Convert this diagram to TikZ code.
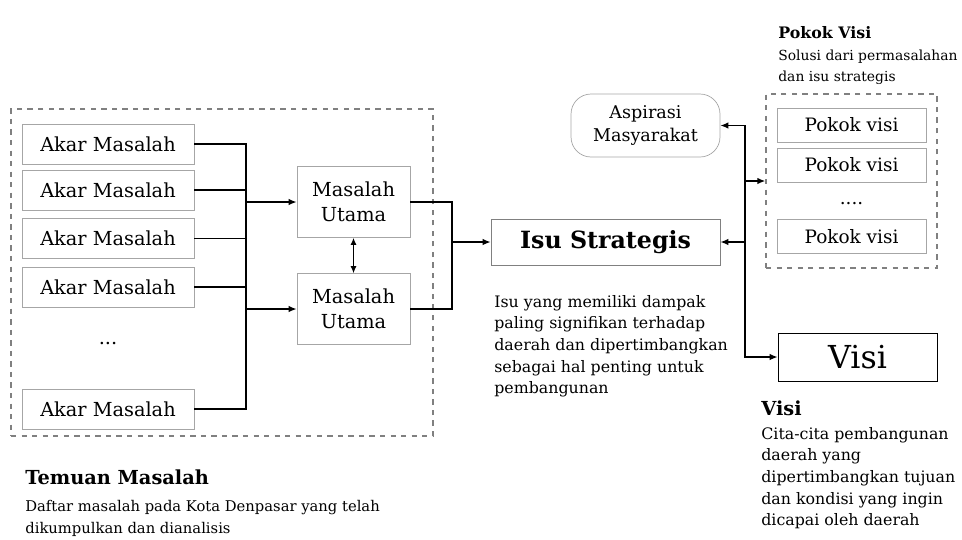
\documentclass[tikz,border=0pt]{standalone}
\usepackage{fontspec}
\setmainfont{DejaVu Serif}
\usetikzlibrary{arrows.meta}

\begin{document}
\begin{tikzpicture}[
  x=0.02cm, y=-0.02cm,
  box/.style={
    rectangle,
    draw=gray!70,
    inner sep=0pt,
    align=center,
    font=\fontsize{11}{14}\selectfont
  },
  akar/.style={box, minimum width=34.4mm, minimum height=8mm},
  utama/.style={box, minimum width=22.6mm, minimum height=14.2mm},
  pokok/.style={box, minimum width=29.8mm, minimum height=6.8mm, font=\fontsize{10.5}{12}\selectfont},
  group/.style={rectangle, draw=gray, dashed, thick, inner sep=0pt},
  desc/.style={anchor=north west, align=left, inner sep=0pt, font=\fontsize{9}{12.3}\selectfont},
  head/.style={anchor=west, inner sep=0pt, font=\bfseries\fontsize{11}{13}\selectfont},
  link/.style={-{Latex[length=1.6mm,width=1.3mm]}, thick},
  line/.style={thick}
]
  \useasboundingbox (0,0) rectangle (962,539);

  % temuan masalah
  \node[group, minimum width=84.4mm, minimum height=65.4mm] (temuan) at (222,272.5) {};
  \node[akar] (a1) at (108,144) {Akar Masalah};
  \node[akar] (a2) at (108,190) {Akar Masalah};
  \node[akar] (a3) at (108,238.5) {Akar Masalah};
  \node[akar] (a4) at (108,287) {Akar Masalah};
  \node[inner sep=0pt, font=\fontsize{11}{14}\selectfont] (dots) at (108,343) {...};
  \node[akar] (a5) at (108,409) {Akar Masalah};

  \node[utama] (mu1) at (353.5,202) {Masalah\\Utama};
  \node[utama] (mu2) at (353.5,309) {Masalah\\Utama};

  \coordinate (bus1) at (246,202);
  \coordinate (bus2) at (246,309);
  \draw[line] (a1) -| (bus1);
  \draw[line] (a2) -| (bus1);
  \draw[line] (a3) -| (bus1);
  \draw[line] (a4) -| (bus1);
  \draw[line] (a5) -| (bus1);
  \draw[link] (bus1) -- (mu1);
  \draw[link] (bus2) -- (mu2);
  \draw[{Latex[length=1.4mm,width=1.2mm]}-{Latex[length=1.4mm,width=1.2mm]}, semithick] (mu1) -- (mu2);

  % isu strategis
  \node[box, draw=gray, minimum width=45.8mm, minimum height=9.2mm,
        font=\bfseries\fontsize{13.5}{16}\selectfont] (isu) at (605.5,242) {Isu Strategis};
  \coordinate (mrg) at (452,242);
  \draw[line] (mu1) -| (mrg);
  \draw[line] (mu2) -| (mrg);
  \draw[link] (mrg) -- (isu);

  \node[desc] (isutxt) at (494,295) {Isu yang memiliki dampak\\paling signifikan terhadap\\daerah dan dipertimbangkan\\sebagai hal penting untuk\\pembangunan};

  % aspirasi, pokok visi, visi
  \node[box, rounded corners=4mm, minimum width=29.8mm, minimum height=12.6mm,
        font=\fontsize{10}{13.5}\selectfont] (asp) at (645.5,125.5) {Aspirasi\\Masyarakat};

  \node[group, minimum width=34.2mm, minimum height=34.8mm] (pokokgrp) at (851.5,181) {};
  \node[pokok] (p1) at (851.5,125) {Pokok visi};
  \node[pokok] (p2) at (851.5,165) {Pokok visi};
  \node[inner sep=0pt, font=\fontsize{10.5}{12}\selectfont] (pdots) at (851.5,204) {....};
  \node[pokok] (p3) at (851.5,236.5) {Pokok visi};

  \node[box, draw=black, minimum width=31.8mm, minimum height=9.6mm,
        font=\fontsize{18}{20}\selectfont] (visi) at (857.5,357) {Visi};

  \coordinate (jr) at (745,242);
  \draw[link] (jr) |- (asp);
  \draw[link] (jr) |- (pokokgrp);
  \draw[link] (jr) -- (isu);
  \draw[link] (jr) |- (visi);

  % keterangan
  \node[head, font=\bfseries\fontsize{9}{11}\selectfont] (pokokhead) at (778,33) {Pokok Visi};
  \node[desc, font=\fontsize{7.9}{12}\selectfont] (pokoktxt) at (778,50) {Solusi dari permasalahan\\dan isu strategis};

  \node[head] (visihead) at (761,408) {Visi};
  \node[desc] (visitxt) at (761,427) {Cita-cita pembangunan\\daerah yang\\dipertimbangkan tujuan\\dan kondisi yang ingin\\dicapai oleh daerah};

  \node[head] (temuanhead) at (25,477) {Temuan Masalah};
  \node[desc, font=\fontsize{8.4}{12.3}\selectfont] (temuantxt) at (25,500) {Daftar masalah pada Kota Denpasar yang telah\\dikumpulkan dan dianalisis};
\end{tikzpicture}
\end{document}
